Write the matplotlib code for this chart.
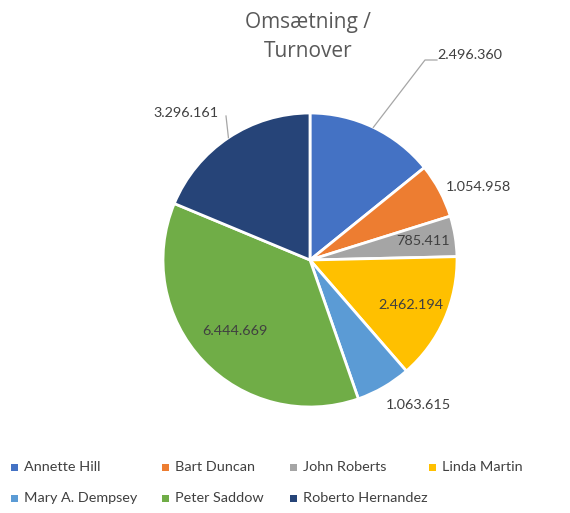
import numpy as np
import matplotlib
matplotlib.use("Agg")
import matplotlib.pyplot as plt
from matplotlib.patches import Rectangle

names = ["Annette Hill", "Bart Duncan", "John Roberts", "Linda Martin",
         "Mary A. Dempsey", "Peter Saddow", "Roberto Hernandez"]
values = [2496360, 1054958, 785411, 2462194, 1063615, 6444669, 3296161]
value_labels = ["2.496.360", "1.054.958", "785.411", "2.462.194",
                "1.063.615", "6.444.669", "3.296.161"]
colors = ["#4472C4", "#ED7D31", "#A5A5A5", "#FFC000",
          "#5B9BD5", "#70AD47", "#264478"]
title = "Omsætning /\nTurnover"

W, H = 570, 513
FONT = "Lato"
TXT = "#404040"

fig = plt.figure(figsize=(W / 100, H / 100), dpi=100)
ax = fig.add_axes([0, 0, 1, 1])

cx, cy, r = 310, H - 260, 147
wedges, _ = ax.pie(values, colors=colors, startangle=90, counterclock=False,
                   center=(cx, cy), radius=r, frame=True,
                   wedgeprops=dict(edgecolor="white", linewidth=2))
ax.set_xlim(0, W)
ax.set_ylim(0, H)
ax.set_aspect("equal")
ax.axis("off")

# label layout: inside radius factor, or outside text position (pixel, y down)
inside = {2: 0.78, 3: 0.75, 5: 0.70}
outside = {0: (470, 55, True), 1: (478, 187, False), 4: (418, 405, False),
           6: (186, 113, True)}
for i, w in enumerate(wedges):
    mid = np.deg2rad((w.theta1 + w.theta2) / 2)
    if i in inside:
        f = inside[i]
        x, y = cx + f * r * np.cos(mid), cy + f * r * np.sin(mid)
        ax.text(x, y, value_labels[i], ha="center", va="center",
                fontsize=10.4, color=TXT, family=FONT)
    else:
        tx, ty, leader = outside[i]
        ty = H - ty
        if leader:
            ex, ey = cx + r * np.cos(mid), cy + r * np.sin(mid)
            if tx > cx:
                kx = tx - 33
                ax.plot([ex, kx - 12, kx], [ey, ty - 5, ty - 5],
                        color="#A6A6A6", lw=0.9)
            else:
                kx = tx + 40
                ax.plot([ex, kx], [ey, ty - 3], color="#A6A6A6", lw=0.9)
        ax.text(tx, ty, value_labels[i], ha="center", va="center",
                fontsize=10.4, color=TXT, family=FONT)

fig.text(308 / W, 1 - 37 / H, title, ha="center", va="center",
         fontsize=15, color="#595959", family="Open Sans", linespacing=1.45)

# legend (row-wise)
leg_pos = [(14, 467), (165, 467), (293, 467), (432, 467),
           (14, 498), (165, 498), (293, 498)]
for (lx, ly), nm, c in zip(leg_pos, names, colors):
    ax.add_patch(Rectangle((lx - 3.5, H - ly - 3.5), 7, 7, color=c, lw=0))
    ax.text(lx + 10, H - ly, nm, ha="left", va="center", fontsize=10.4,
            color=TXT, family=FONT)

fig.savefig("out.png", dpi=100, facecolor="white")
